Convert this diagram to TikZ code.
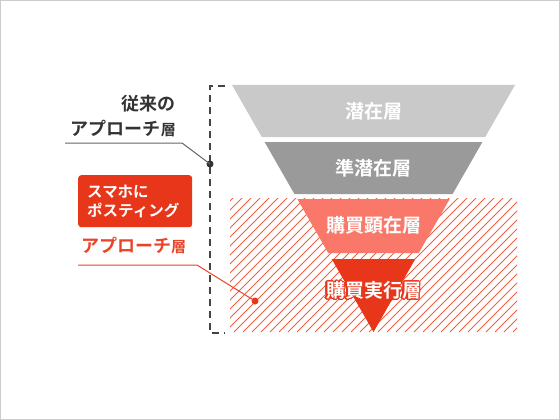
\documentclass[tikz,border=0pt]{standalone}
\usepackage{fontspec}
\setmainfont{Noto Sans CJK JP}[BoldFont={Noto Sans CJK JP Bold}]
\usepackage{contour}
\contourlength{1.1pt}
\contournumber{24}
\definecolor{frame}{HTML}{CCCCCC}
\definecolor{lay1}{HTML}{C9C9C9}
\definecolor{lay2}{HTML}{9A9A9A}
\definecolor{lay3}{HTML}{FA786A}
\definecolor{lay4}{HTML}{E8361B}
\definecolor{hatch}{HTML}{F2603F}
\definecolor{darktxt}{HTML}{333333}
\definecolor{redtxt}{HTML}{E9442A}
\definecolor{bracket}{HTML}{444444}
\begin{document}
\begin{tikzpicture}[x=1pt,y=-1pt,
  laylabel/.style={text=white,font=\fontsize{19}{21}\selectfont\bfseries,inner sep=0pt},
  lefttxt/.style={font=\fontsize{18}{20}\selectfont\bfseries,inner sep=0pt},
  dotmark/.style={circle,inner sep=0pt,minimum size=7pt}]
\useasboundingbox (0,0) rectangle (560,420);
\draw[frame,line width=1pt] (0.5,0.5) rectangle (559.5,419.5);
% hatched area
\begin{scope}
\clip (230,198) rectangle (517,332);
\foreach \i in {0,...,50}{
  \draw[hatch,line width=0.9pt] (230+\i*9-140,332) -- ++(140,-140);
}
\end{scope}
% funnel
\fill[lay1] (232,85) -- (515,85) -- (485.2,137) -- (261.8,137) -- cycle;
\fill[lay2] (264.6,142) -- (482.4,142) -- (452.6,194) -- (294.4,194) -- cycle;
\fill[lay3] (297.3,199) -- (449.7,199) -- (418.8,253) -- (328.2,253) -- cycle;
\fill[lay4] (331.7,259) -- (415.3,259) -- (373.5,332) -- cycle;
\node[laylabel] (l1) at (373.5,111) {潜在層};
\node[laylabel] (l2) at (373.5,168) {準潜在層};
\node[laylabel] (l3) at (373.5,226) {\contour{lay3}{購買顕在層}};
\node[laylabel] (l4) at (373.5,291) {\contour{lay4}{購買実行層}};
% bracket
\draw[bracket,line width=1.8pt,dash pattern=on 7pt off 5pt] (225,86) -- (210,86) -- (210,333) -- (225,333);
% left labels
\node[lefttxt,text=darktxt,anchor=east] (t1) at (176,104) {従来の};
\node[lefttxt,text=darktxt,anchor=east] (t2) at (176,128) {アプローチ{\fontsize{15}{17}\selectfont 層}};
\node[dotmark,fill=darktxt] (d1) at (210,164) {};
\coordinate (g0) at (65,143);
\coordinate (g1) at (182,143);
\draw[black!60,line width=1pt] (g0) -- (g1) -- (d1.center);
% red box
\node[fill=lay4,rounded corners=3pt,anchor=north west,text=white,
  font=\fontsize{15.5}{19}\selectfont\bfseries,align=left,text width=96pt,
  inner xsep=9pt,minimum height=52pt] (box) at (78,175) {スマホに\\ポスティング};
\node[lefttxt,text=redtxt,anchor=west] (t3) at (81,245) {アプローチ{\fontsize{15}{17}\selectfont 層}};
\node[dotmark,fill=lay4] (d2) at (255,301) {};
\coordinate (r0) at (78,265);
\coordinate (r1) at (197,265);
\draw[redtxt,line width=1pt] (r0) -- (r1) -- (d2.center);
\end{tikzpicture}
\end{document}
